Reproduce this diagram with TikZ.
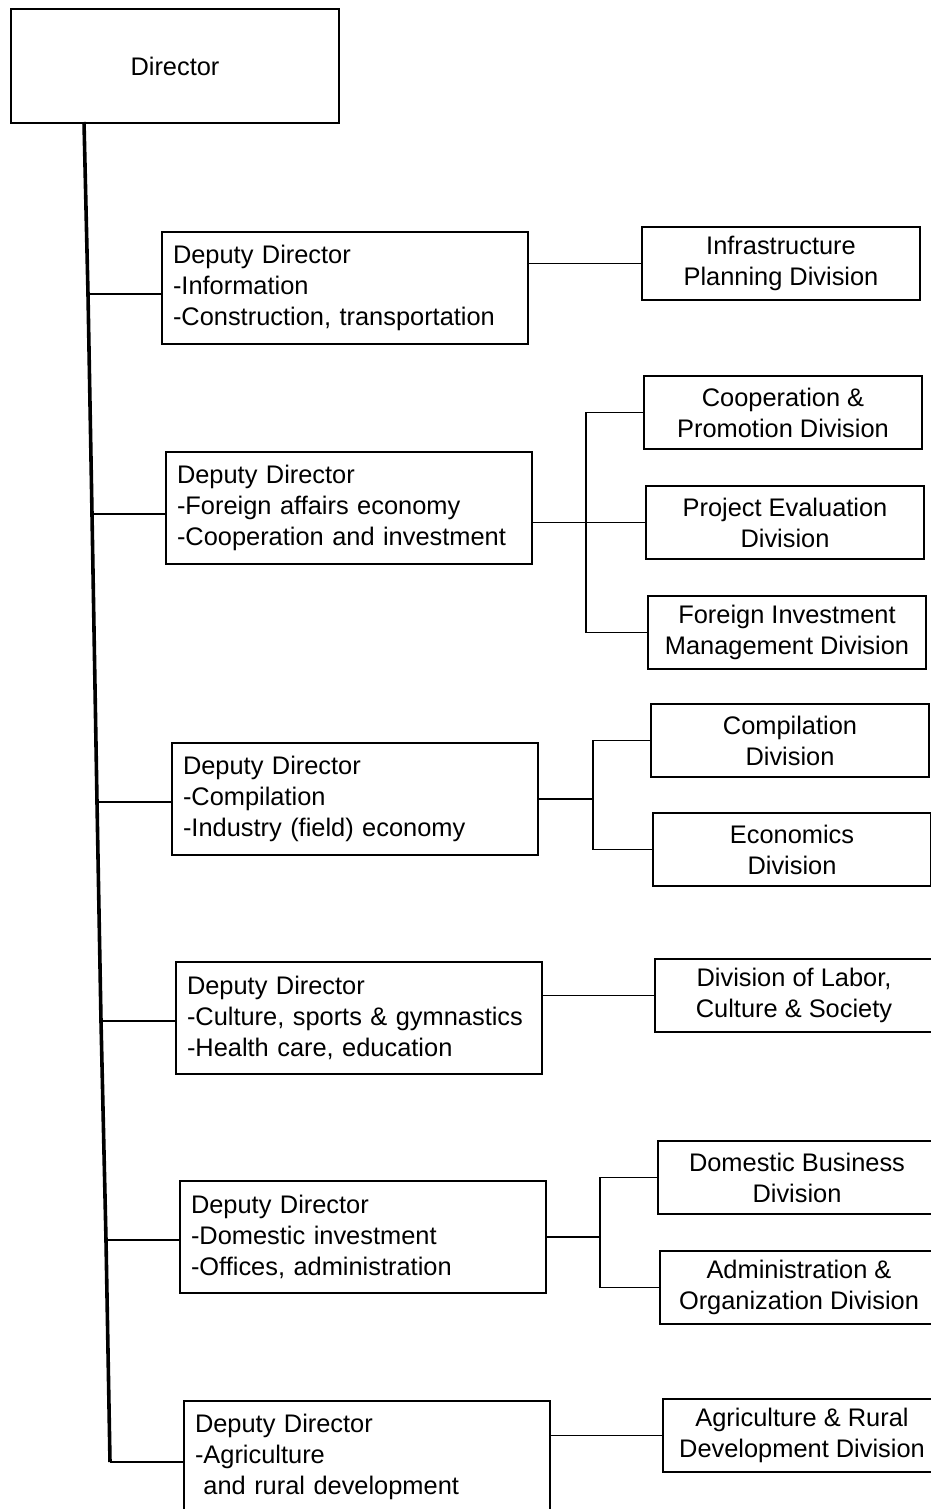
\documentclass[tikz,border=0pt]{standalone}
\usepackage{fontspec}
\setmainfont{Liberation Sans}
\begin{document}
\begin{tikzpicture}[x=0.5pt,y=-0.5pt,
  box/.style={draw, line width=1pt, inner ysep=0pt, anchor=north west,
    font=\fontsize{12.7}{15.5}\selectfont},
  chief/.style={box, minimum width=164pt, minimum height=57pt},
  deputy/.style={box, inner xsep=5.5pt, text width=172pt, minimum height=56pt, align=left},
  division/.style={box, minimum width=139pt, minimum height=36.5pt, align=center},
  trunk/.style={line width=1.8pt, line join=miter},
  link/.style={line width=0.8pt}
]
% page frame
\fill[white] (0,0) rectangle (931,1509);
\useasboundingbox (0,0) rectangle (931,1509);

% director
\node[chief] (dir) at (10,8) {Director};

% deputy directors
\node[deputy] (d1) at (161,231) {Deputy Director\\-Information\\-Construction, transportation};
\node[deputy] (d2) at (165,451) {Deputy Director\\-Foreign affairs economy\\-Cooperation and investment};
\node[deputy] (d3) at (171,742) {Deputy Director\\-Compilation\\-Industry (field) economy};
\node[deputy] (d4) at (175,961) {Deputy Director\\-Culture, sports \& gymnastics\\-Health care, education};
\node[deputy] (d5) at (179,1180) {Deputy Director\\-Domestic investment\\-Offices, administration};
\node[deputy] (d6) at (183,1400) {Deputy Director\\-Agriculture\\\phantom{-}and rural development};

% divisions
\node[division] (v1)  at (641,226)  {Infrastructure\\Planning  Division};
\node[division] (v2)  at (643,375)  {Cooperation \&\\Promotion Division};
\node[division] (v3)  at (645,485)  {Project Evaluation\\Division};
\node[division] (v4)  at (647,595)  {Foreign Investment\\Management Division};
\node[division] (v5)  at (650,703)  {Compilation\\Division};
\node[division] (v6)  at (652,812)  {Economics\\Division};
\node[division] (v7)  at (654,958)  {Division of Labor,\\Culture \& Society};
\node[division] (v8)  at (657,1140) {Domestic Business\\Division};
\node[division] (v9)  at (659,1250) {Administration \&\\Organization Division};
\node[division] (v10) at (662,1398) {Agriculture \& Rural\\Development Division};

% trunk from the director down to the last deputy
\coordinate (t0) at (84,122);
\coordinate (t1) at (88,294);
\coordinate (t2) at (92,514);
\coordinate (t3) at (97,802);
\coordinate (t4) at (101,1021);
\coordinate (t5) at (106,1240);
\coordinate (t6) at (110,1462);
\draw[trunk] (t0) -- (t1) -- (t2) -- (t3) -- (t4) -- (t5) -- (t6);
\foreach \i in {1,...,6}
  \draw[link] (t\i) -- (t\i -| d\i.west);

% bracket columns
\coordinate (b2) at (586,0);
\coordinate (b3) at (593,0);
\coordinate (b5) at (600,0);

% single divisions
\draw[link] (v1.west) -- (v1.west -| d1.east);
\draw[link] (v7.west) -- (v7.west -| d4.east);
\draw[link] (v10.west) -- (v10.west -| d6.east);

% three divisions under the second deputy
\draw[link] (d2.east |- v3.west) -- (v3.west);
\draw[link] (v2.west) -- (v2.west -| b2) -- (v4.west -| b2) -- (v4.west);

% two divisions under the third deputy
\draw[link] (d3.east) -- (d3.east -| b3);
\draw[link] (v5.west) -- (v5.west -| b3) -- (v6.west -| b3) -- (v6.west);

% two divisions under the fifth deputy
\draw[link] (d5.east) -- (d5.east -| b5);
\draw[link] (v8.west) -- (v8.west -| b5) -- (v9.west -| b5) -- (v9.west);
\end{tikzpicture}
\end{document}
